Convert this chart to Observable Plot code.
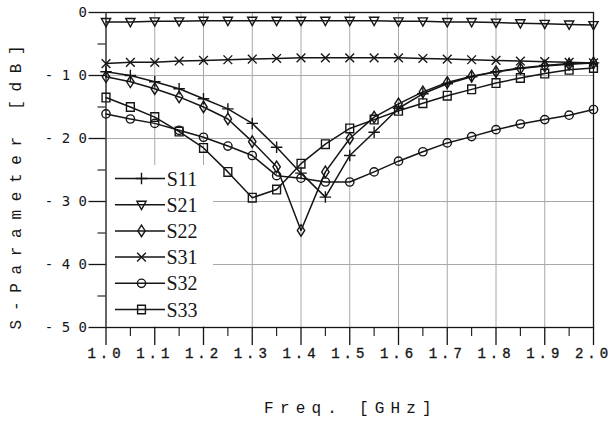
<!DOCTYPE html>
<html>
<head>
<meta charset="utf-8">
<script src="https://cdn.jsdelivr.net/npm/d3@7"></script>
<script src="https://cdn.jsdelivr.net/npm/@observablehq/plot@0.6"></script>
<style>
  html, body { margin: 0; padding: 0; background: #fff; }
  #chart { width: 613px; height: 423px; }
</style>
</head>
<body>
<div id="chart"></div>
<script>
// ---- data ----
const freq = [1.00, 1.05, 1.10, 1.15, 1.20, 1.25, 1.30, 1.35, 1.40, 1.45, 1.50,
              1.55, 1.60, 1.65, 1.70, 1.75, 1.80, 1.85, 1.90, 1.95, 2.00];
const S11 = [-9.4, -10.0, -11.0, -12.1, -13.7, -15.3, -17.6, -21.4, -25.5, -29.3, -22.7,
             -19.0, -15.2, -12.9, -11.3, -10.2, -9.4, -8.8, -8.4, -8.1, -8.0];
const S21 = [-1.5, -1.5, -1.4, -1.4, -1.3, -1.3, -1.3, -1.3, -1.3, -1.3, -1.3,
             -1.3, -1.4, -1.4, -1.5, -1.5, -1.6, -1.7, -1.8, -1.9, -2.0];
const S22 = [-10.2, -11.0, -12.1, -13.4, -15.0, -16.9, -20.5, -24.5, -34.6, -25.3, -20.0,
             -16.6, -14.5, -12.6, -11.1, -10.1, -9.4, -8.9, -8.5, -8.2, -8.0];
const S31 = [-8.1, -7.9, -7.9, -7.7, -7.6, -7.5, -7.4, -7.3, -7.2, -7.2, -7.2,
             -7.2, -7.2, -7.3, -7.4, -7.5, -7.6, -7.7, -7.8, -7.9, -8.0];
const S32 = [-16.1, -16.9, -17.6, -18.7, -19.8, -21.2, -22.7, -25.9, -26.3, -26.9, -26.9,
             -25.3, -23.6, -22.1, -20.7, -19.7, -18.6, -17.7, -17.0, -16.3, -15.4];
const S33 = [-13.5, -15.0, -16.6, -18.9, -21.5, -25.3, -29.4, -28.1, -24.0, -20.9, -18.4,
             -17.0, -15.6, -14.4, -13.2, -12.2, -11.2, -10.4, -9.7, -9.1, -8.8];

const seriesNames = ["S11", "S21", "S22", "S31", "S32", "S33"];
const seriesValues = [S11, S21, S22, S31, S32, S33];

const xMajorTicks = [1.0, 1.1, 1.2, 1.3, 1.4, 1.5, 1.6, 1.7, 1.8, 1.9, 2.0];
const xMinorTicks = [1.05, 1.15, 1.25, 1.35, 1.45, 1.55, 1.65, 1.75, 1.85, 1.95];
const yMajorTicks = [0, -10, -20, -30, -40, -50];
const yMinorTicks = [-5, -15, -25, -35, -45];
const yTickLabels = ["0", "- 1 0", "- 2 0", "- 3 0", "- 4 0", "- 5 0"];
const xTitle = "Freq. [GHz]";
const yTitle = "S-Parameter [dB]";

// ---- custom marker symbols ----
const rad = s => Math.sqrt(s / Math.PI);
const symPlus = { draw(c, s) { const r = rad(s) * 1.25; c.moveTo(0, -r); c.lineTo(0, r); c.moveTo(-r, 0); c.lineTo(r, 0); } };
const symTriDown = { draw(c, s) { const r = rad(s); c.moveTo(-r, -r * 0.75); c.lineTo(r, -r * 0.75); c.lineTo(0, r * 1.05); c.closePath(); } };
const symDiamond = { draw(c, s) { const r = rad(s); c.moveTo(0, -r * 1.25); c.lineTo(r * 0.8, 0); c.lineTo(0, r * 1.25); c.lineTo(-r * 0.8, 0); c.closePath(); } };
const symTimes = { draw(c, s) { const r = rad(s) * 0.95; c.moveTo(-r, -r); c.lineTo(r, r); c.moveTo(r, -r); c.lineTo(-r, r); } };
const symCircle = { draw(c, s) { const r = rad(s) * 0.9; c.moveTo(r, 0); c.arc(0, 0, r, 0, 2 * Math.PI); } };
const symSquare = { draw(c, s) { const r = rad(s) * 0.85; c.rect(-r, -r * 1.1, 2 * r, 2.2 * r); } };
const symbols = [symPlus, symTriDown, symDiamond, symTimes, symCircle, symSquare];

const rows = seriesNames.map((name, i) => freq.map((f, j) => ({ series: name, f, v: seriesValues[i][j] })));

const ink = "#151515";
const monoFont = "'Liberation Mono', 'DejaVu Sans Mono', monospace";
const marks = [
  Plot.gridX(xMajorTicks.slice(1, -1), { stroke: "#a8a8a8", strokeOpacity: 1, strokeWidth: 1 }),
  Plot.gridY(yMajorTicks.slice(1, -1), { stroke: "#a8a8a8", strokeOpacity: 1, strokeWidth: 1 }),
  Plot.axisX(xMajorTicks, { label: null, tickSize: 18, tickPadding: 3, tickFormat: d => d.toFixed(1), fontSize: 14, stroke: ink, strokeWidth: 1.3, fill: ink }),
  Plot.axisX(xMinorTicks, { label: null, tickSize: 9, tickFormat: () => "", stroke: ink, strokeWidth: 1.1 }),
  Plot.axisY(yMajorTicks, { label: null, tickSize: 17, tickFormat: () => "", stroke: ink, strokeWidth: 1.3 }),
  Plot.axisY(yMinorTicks, { label: null, tickSize: 8, tickFormat: () => "", stroke: ink, strokeWidth: 1.1 }),
  Plot.text(yMajorTicks, { y: d => d, frameAnchor: "left", dx: -19, text: (d, i) => yTickLabels[i], textAnchor: "end", fontSize: 14, fontFamily: "'DejaVu Sans Mono', monospace", fill: ink }),
  Plot.frame({ stroke: ink, strokeWidth: 1.3 })
];
rows.forEach((data, i) => {
  marks.push(Plot.line(data, { x: "f", y: "v", stroke: ink, strokeWidth: 1.5 }));
  marks.push(Plot.dot(data, { x: "f", y: "v", symbol: () => symbols[i], r: 4.6, stroke: ink, strokeWidth: 1.4, fill: "none" }));
});

const chart = Plot.plot({
  width: 613,
  height: 423,
  marginLeft: 105.5,
  marginRight: 20,
  marginTop: 12,
  marginBottom: 96,
  x: { domain: [1, 2], axis: null, label: null },
  y: { domain: [-50, 0], axis: null, label: null },
  style: { fontFamily: monoFont, background: "#fff", color: ink },
  marks
});
document.getElementById("chart").appendChild(chart);

// ---- post styling: letter-spaced x tick labels ----
const svg = d3.select(chart);
svg.selectAll("g[aria-label='x-axis tick label'] text")
  .style("letter-spacing", "4px").style("stroke", ink).style("stroke-width", "0.35px");
svg.selectAll("g[aria-label='text'] text").style("white-space", "pre");

// ---- legend box (hides grid behind it) ----
const gridY = chart.querySelector("g[aria-label='y-grid']");
const box = document.createElementNS("http://www.w3.org/2000/svg", "rect");
box.setAttribute("x", 107); box.setAttribute("y", 165);
box.setAttribute("width", 106); box.setAttribute("height", 161);
box.setAttribute("fill", "#fff");
gridY.parentNode.insertBefore(box, gridY.nextSibling);

const leg = svg.append("g").attr("aria-label", "legend");
seriesNames.forEach((name, i) => {
  const cy = 178.5 + i * 26.2;
  leg.append("line").attr("x1", 115).attr("x2", 165).attr("y1", cy).attr("y2", cy)
    .attr("stroke", ink).attr("stroke-width", 1.5);
  leg.append("path").attr("transform", `translate(141.5,${cy})`)
    .attr("d", d3.symbol(symbols[i], Math.PI * 4.6 * 4.6)())
    .attr("fill", "none").attr("stroke", ink).attr("stroke-width", 1.4);
  leg.append("text").attr("x", 182).attr("y", cy + 7).text(name)
    .attr("font-family", "'Liberation Serif', 'DejaVu Serif', serif").attr("font-size", 20)
    .attr("fill", ink);
});

// ---- axis titles ----
svg.append("text").attr("x", 351).attr("y", 413).attr("text-anchor", "middle")
  .attr("font-family", monoFont).attr("font-size", 16).attr("fill", ink).style("letter-spacing", "6.2px").text(xTitle);
svg.append("text").attr("transform", "translate(21,183) rotate(-90)").attr("text-anchor", "middle")
  .attr("font-family", monoFont).attr("font-size", 16).attr("fill", ink).style("letter-spacing", "8.7px").text(yTitle);
</script>
</body>
</html>
